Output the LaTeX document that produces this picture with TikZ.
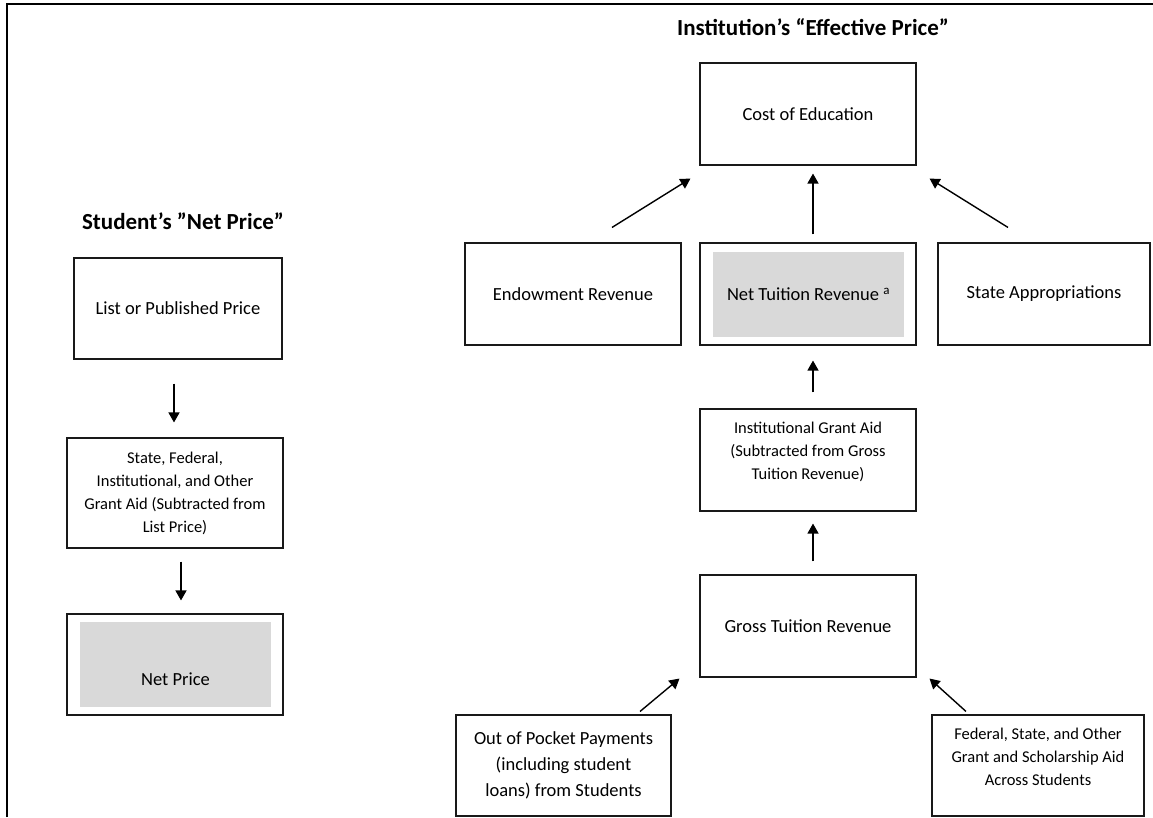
\documentclass[tikz,border=0pt]{standalone}
\usepackage{fontspec}
\setmainfont{Carlito}
\usetikzlibrary{arrows.meta,calc}
\definecolor{fillgray}{RGB}{217,217,217}
\tikzset{
  % price box, large text
  pbox/.style={rectangle, draw=black!90, line width=1.1pt, minimum width=#1, minimum height=101pt,
               inner sep=0pt, align=center, font=\fontsize{18.5}{26}\selectfont},
  pbox/.default={216pt},
  % price box, small text
  sbox/.style={pbox=#1, font=\fontsize{16.5}{23}\selectfont},
  sbox/.default={216pt},
  % small text placed on its own
  stext/.style={inner sep=0pt, align=center, font=\fontsize{16.5}{23}\selectfont},
  % shaded inner area
  gbox/.style={rectangle, fill=fillgray, minimum width=191pt, minimum height=85pt, inner sep=0pt,
               font=\fontsize{18.5}{26}\selectfont},
  % column heading
  heading/.style={font=\fontsize{23}{27}\selectfont\bfseries},
  % flow arrow
  flowarrow/.style={-{Triangle[length=10pt,width=11pt]}, line width=1.4pt},
}
\begin{document}
\begin{tikzpicture}[x=1pt,y=1pt]
  \useasboundingbox (0,0) rectangle (1153,-817);
  % page frame
  \draw[line width=2pt] (7,-817) -- (7,-4) -- (1153,-4);
  % student side
  \node[heading] (stitle) at (183,-221) {Student’s ”Net Price”};
  \node[pbox=208pt] (list) at (178,-308.5) {List or Published Price};
  \node[sbox, minimum height=110pt] (grant) at (175,-493)
    {State, Federal,\\Institutional, and Other\\Grant Aid (Subtracted from\\List Price)};
  \node[pbox] (net) at (175,-664.5) {};
  \node[gbox] (netfill) at (175.5,-664.5) {};
  \node[font=\fontsize{18.5}{26}\selectfont] (nettext) at (175.5,-679) {Net Price};
  \draw[flowarrow, shorten <=24pt, shorten >=15pt] ([xshift=-4pt]list.south) -- ([xshift=-4pt]list.south |- grant.north);
  \draw[flowarrow, shorten <=13pt, shorten >=13pt] ([xshift=6pt]grant.south) -- ([xshift=6pt]grant.south |- net.north);
  % institution side
  \node[heading] (ititle) at (813,-27) {Institution’s “Effective Price”};
  \node[pbox, minimum height=102pt] (cost) at (808,-114) {Cost of Education};
  \node[pbox, minimum height=102pt] (endow) at (573,-294) {Endowment Revenue};
  \node[pbox, minimum height=102pt] (tuition) at (808,-294) {};
  \node[gbox] (tuitionfill) at (808.5,-294.5) {Net Tuition Revenue \textsuperscript{a}};
  \node[pbox=212pt, minimum height=102pt] (approp) at (1044,-294) {State Appropriations};
  \node[sbox, minimum height=102pt] (instaid) at (808,-460) {};
  \node[stext] (insttext) at (808,-452)
    {Institutional Grant Aid\\(Subtracted from Gross\\Tuition Revenue)};
  \node[pbox, minimum height=102pt] (gross) at (808,-626) {Gross Tuition Revenue};
  \node[pbox=215pt] (pocket) at (563.5,-765.5)
    {Out of Pocket Payments\\(including student\\loans) from Students};
  \node[sbox=212pt] (fedaid) at (1038,-765.5) {};
  \node[stext] (fedtext) at (1038,-757)
    {Federal, State, and Other\\Grant and Scholarship Aid\\Across Students};
  \draw[flowarrow] ([shift={(39pt,15pt)}]endow.north) -- ([shift={(-9pt,-13pt)}]cost.south west);
  \draw[flowarrow, shorten <=8pt, shorten >=8pt] ([xshift=5pt]tuition.north) -- ([xshift=5pt]cost.south);
  \draw[flowarrow] ([shift={(-36pt,15pt)}]approp.north) -- ([shift={(13pt,-13pt)}]cost.south east);
  \draw[flowarrow, shorten <=16pt, shorten >=15pt] ([xshift=5pt]instaid.north) -- ([xshift=5pt]tuition.south);
  \draw[flowarrow, shorten <=13pt, shorten >=12pt] ([xshift=5pt]gross.north) -- ([xshift=5pt]instaid.south);
  \draw[flowarrow] ([shift={(76.5pt,3pt)}]pocket.north) -- ([shift={(-20pt,-1pt)}]gross.south west);
  \draw[flowarrow] ([shift={(-72pt,3pt)}]fedaid.north) -- ([shift={(13pt,-1pt)}]gross.south east);
\end{tikzpicture}
\end{document}
